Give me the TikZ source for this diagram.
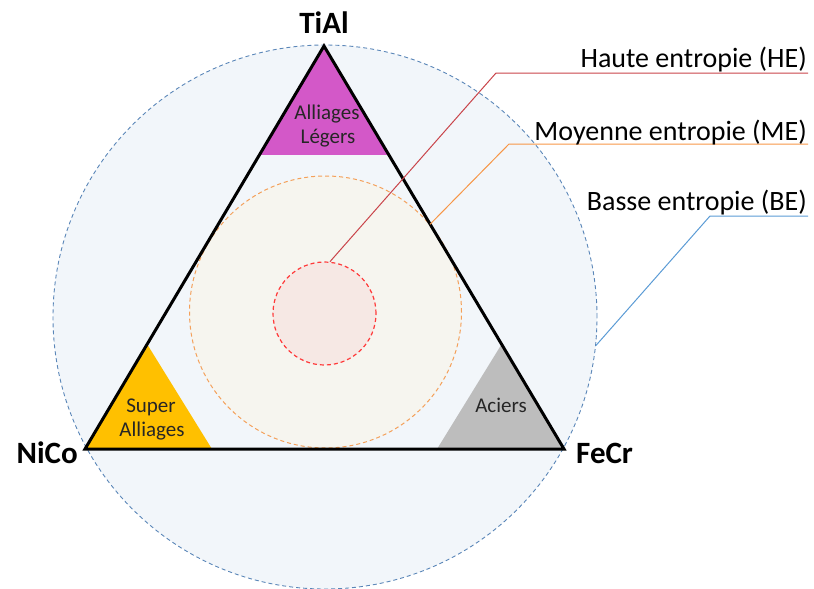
\documentclass[tikz,border=0pt]{standalone}
\usepackage{fontspec}
\setmainfont{Carlito}
\usetikzlibrary{calc}
\definecolor{bgblue}{HTML}{F2F6FA}
\definecolor{bedash}{HTML}{5A86B8}
\definecolor{mefill}{HTML}{F6F5EF}
\definecolor{medash}{HTML}{F4A05A}
\definecolor{hefill}{HTML}{F6E8E4}
\definecolor{hedash}{HTML}{FF3A3A}
\definecolor{heline}{HTML}{C9444A}
\definecolor{meline}{HTML}{F79646}
\definecolor{beline}{HTML}{5B9BD5}
\definecolor{legmag}{HTML}{D358C8}
\definecolor{supyel}{HTML}{FFC000}
\definecolor{acigr}{HTML}{BDBDBD}
\begin{document}
\begin{tikzpicture}[x=1pt,y=-1pt,
  zone/.style={circle, inner sep=0pt, dashed, dash pattern=on 4pt off 3pt},
  vertex/.style={font=\fontsize{31}{33}\selectfont\bfseries, inner sep=0pt},
  family/.style={font=\fontsize{21}{24}\selectfont, inner sep=0pt, anchor=base, text=black!85},
  legend/.style={font=\fontsize{28}{30}\selectfont, inner sep=0pt, anchor=base east},
  leader/.style={line width=1pt}]
\useasboundingbox (0,0) rectangle (814,589);
% zones
\node[zone, draw=bedash, fill=bgblue, line width=0.9pt, minimum size=544pt] (BE) at (325,317) {};
\node[zone, draw=medash, fill=mefill, line width=1pt, minimum size=272pt] (ME) at (325.5,312) {};
\node[zone, draw=hedash, fill=hefill, line width=1.2pt, minimum size=103pt] (HE) at (324.5,313.5) {};
% triangle vertices
\coordinate (A) at (324,46);
\coordinate (B) at (85,449);
\coordinate (C) at (564,449);
% corner families
\fill[legmag] (A) -- ($(A)!0.27!(B)$) -- ($(A)!0.27!(C)$) -- cycle;
\fill[supyel] (B) -- ($(B)!0.26!(A)$) -- ($(B)!0.265!(C)$) -- cycle;
\fill[acigr] (C) -- ($(C)!0.26!(A)$) -- ($(C)!0.265!(B)$) -- cycle;
% main triangle
\draw[line width=3pt, line join=miter] (A) -- (B) -- (C) -- cycle;
% vertex labels
\node[vertex, anchor=base] (tial) at (324,34) {TiAl};
\node[vertex, anchor=base east] (nico) at (78,463) {NiCo};
\node[vertex, anchor=base west] (fecr) at (576,463) {FeCr};
% family labels
\node[family] (leg1) at (327,119) {Alliages};
\node[family] (leg2) at (328,143) {Légers};
\node[family] (sup1) at (151,412) {Super};
\node[family] (sup2) at (152,436) {Alliages};
\node[family] (aci) at (501,412) {Aciers};
% leaders
\coordinate (kHE) at (496,73);
\coordinate (eHE) at (808,73);
\coordinate (kME) at (509,144);
\coordinate (eME) at (808,144);
\coordinate (kBE) at (710,216);
\coordinate (eBE) at (808,216);
\draw[leader, heline] (HE.84) -- (kHE) -- (eHE);
\draw[leader, meline] (ME.40) -- (kME) -- (eME);
\draw[leader, beline] (BE.-6.5) -- (kBE) -- (eBE);
\node[legend] (tHE) at (807,67) {Haute entropie (HE)};
\node[legend] (tME) at (807,140) {Moyenne entropie (ME)};
\node[legend] (tBE) at (807,210) {Basse entropie (BE)};
\end{tikzpicture}
\end{document}
